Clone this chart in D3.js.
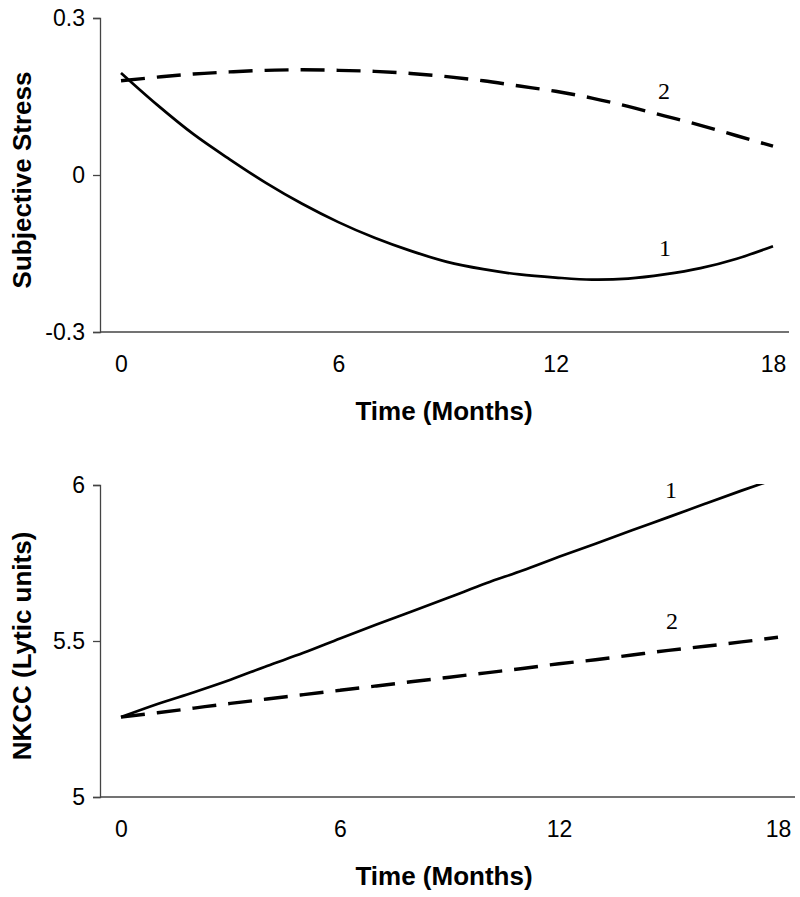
<!DOCTYPE html>
<html>
<head>
<meta charset="utf-8">
<script src="https://d3js.org/d3.v7.min.js"></script>
<style>
  html, body { margin: 0; padding: 0; background: #fff; }
  svg { display: block; }
</style>
</head>
<body>
<div id="chart"></div>
<script>
// ---- Data ----
const months = [0,1,2,3,4,5,6,7,8,9,10,11,12,13,14,15,16,17,18];
const xTickValues = [0, 6, 12, 18];

// Top panel: Subjective Stress
const stressSeries1 = [0.195,0.134,0.078,0.03,-0.015,-0.055,-0.09,-0.12,-0.145,-0.166,-0.18,-0.19,-0.196,-0.2,-0.198,-0.19,-0.178,-0.16,-0.136];
const stressSeries2 = [0.18,0.187,0.193,0.197,0.2,0.201,0.2,0.198,0.194,0.188,0.18,0.17,0.16,0.147,0.131,0.113,0.095,0.075,0.055];
const stressTicks = [-0.3, 0, 0.3];
const stressTickLabels = ["-0.3", "0", "0.3"];

// Bottom panel: NKCC
const nkccSeries1 = [5.256,5.298,5.336,5.376,5.42,5.462,5.508,5.553,5.596,5.64,5.685,5.726,5.77,5.812,5.855,5.897,5.94,5.982,6.022];
const nkccSeries2 = [5.256,5.27,5.285,5.3,5.314,5.328,5.342,5.356,5.37,5.384,5.398,5.412,5.427,5.44,5.455,5.47,5.483,5.497,5.512];
const nkccTicks = [5, 5.5, 6];
const nkccTickLabels = ["5", "5.5", "6"];

const seriesNames = ["1", "2"];

// ---- Drawing ----
const W = 800, H = 897;
const svg = d3.select("#chart").append("svg").attr("width", W).attr("height", H);

const sans = "'Liberation Sans', Arial, Helvetica, sans-serif";
const serif = "'Liberation Serif', 'Times New Roman', serif";

function panel(cfg) {
  const g = svg.append("g");
  const x = d3.scaleLinear().domain([0, 18]).range(cfg.xRange);
  const y = d3.scaleLinear().domain(cfg.yDomain).range(cfg.yRange);

  const clipId = "clip" + cfg.id;
  svg.append("clipPath").attr("id", clipId).append("rect")
    .attr("x", cfg.axisX).attr("y", cfg.yRange[1] - 1)
    .attr("width", cfg.axisRight - cfg.axisX + 10)
    .attr("height", cfg.yRange[0] - cfg.yRange[1] + 1);

  // y axis
  const yAxis = d3.axisLeft(y).tickValues(cfg.ticks)
    .tickFormat((d, i) => cfg.tickLabels[i]).tickSize(7).tickPadding(8);
  const ya = g.append("g").attr("transform", `translate(${cfg.axisX},0)`).call(yAxis);
  ya.select(".domain").attr("stroke", "#444").attr("stroke-width", 1.3);
  ya.selectAll(".tick line").attr("stroke", "#444").attr("stroke-width", 1.3);
  ya.selectAll("text").attr("font-family", sans).attr("font-size", 23).attr("fill", "#000");

  // x axis (labels only; baseline line drawn across)
  const xAxis = d3.axisBottom(x).tickValues(xTickValues).tickSize(0);
  const xa = g.append("g").attr("transform", `translate(0,${cfg.yRange[0]})`).call(xAxis);
  xa.select(".domain").remove();
  xa.selectAll("text").attr("font-family", sans).attr("font-size", 23).attr("fill", "#000")
    .attr("y", 40).attr("dy", 0);
  g.append("line")
    .attr("x1", cfg.axisX).attr("x2", cfg.axisRight)
    .attr("y1", cfg.yRange[0]).attr("y2", cfg.yRange[0])
    .attr("stroke", "#444").attr("stroke-width", 1.3);

  // lines
  const line = d3.line().x((d, i) => x(months[i])).y(d => y(d)).curve(d3.curveCatmullRom.alpha(0.5));
  const lg = g.append("g").attr("clip-path", `url(#${clipId})`);
  lg.append("path").datum(cfg.s1).attr("d", line)
    .attr("fill", "none").attr("stroke", "#000").attr("stroke-width", 2.7);
  lg.append("path").datum(cfg.s2).attr("d", line)
    .attr("fill", "none").attr("stroke", "#000").attr("stroke-width", 3.4)
    .attr("stroke-dasharray", "24,12");

  // series labels
  cfg.labels.forEach((l, i) => {
    g.append("text").attr("x", l[0]).attr("y", l[1])
      .attr("text-anchor", "middle").attr("font-family", serif)
      .attr("font-size", 24).attr("fill", "#000").text(seriesNames[l[2]]);
  });

  // axis titles
  g.append("text")
    .attr("transform", `translate(31,${cfg.yTitleY}) rotate(-90)`)
    .attr("text-anchor", "middle").attr("font-family", sans)
    .attr("font-weight", "bold").attr("font-size", 26).attr("fill", "#000")
    .text(cfg.yTitle);
  g.append("text")
    .attr("x", 444).attr("y", cfg.xTitleY)
    .attr("text-anchor", "middle").attr("font-family", sans)
    .attr("font-weight", "bold").attr("font-size", 26).attr("fill", "#000")
    .text("Time (Months)");
}

panel({
  id: "top",
  xRange: [121, 773], yDomain: [-0.3, 0.3], yRange: [332, 18],
  axisX: 100, axisRight: 789,
  ticks: stressTicks, tickLabels: stressTickLabels,
  s1: stressSeries1, s2: stressSeries2,
  labels: [[664, 99, 1], [665, 256, 0]],
  yTitle: "Subjective Stress", yTitleY: 180, xTitleY: 420
});

panel({
  id: "bottom",
  xRange: [121, 778], yDomain: [5, 6], yRange: [797, 485],
  axisX: 100, axisRight: 795,
  ticks: nkccTicks, tickLabels: nkccTickLabels,
  s1: nkccSeries1, s2: nkccSeries2,
  labels: [[671, 498, 0], [672, 629, 1]],
  yTitle: "NKCC (Lytic units)", yTitleY: 646, xTitleY: 885
});
</script>
</body>
</html>
